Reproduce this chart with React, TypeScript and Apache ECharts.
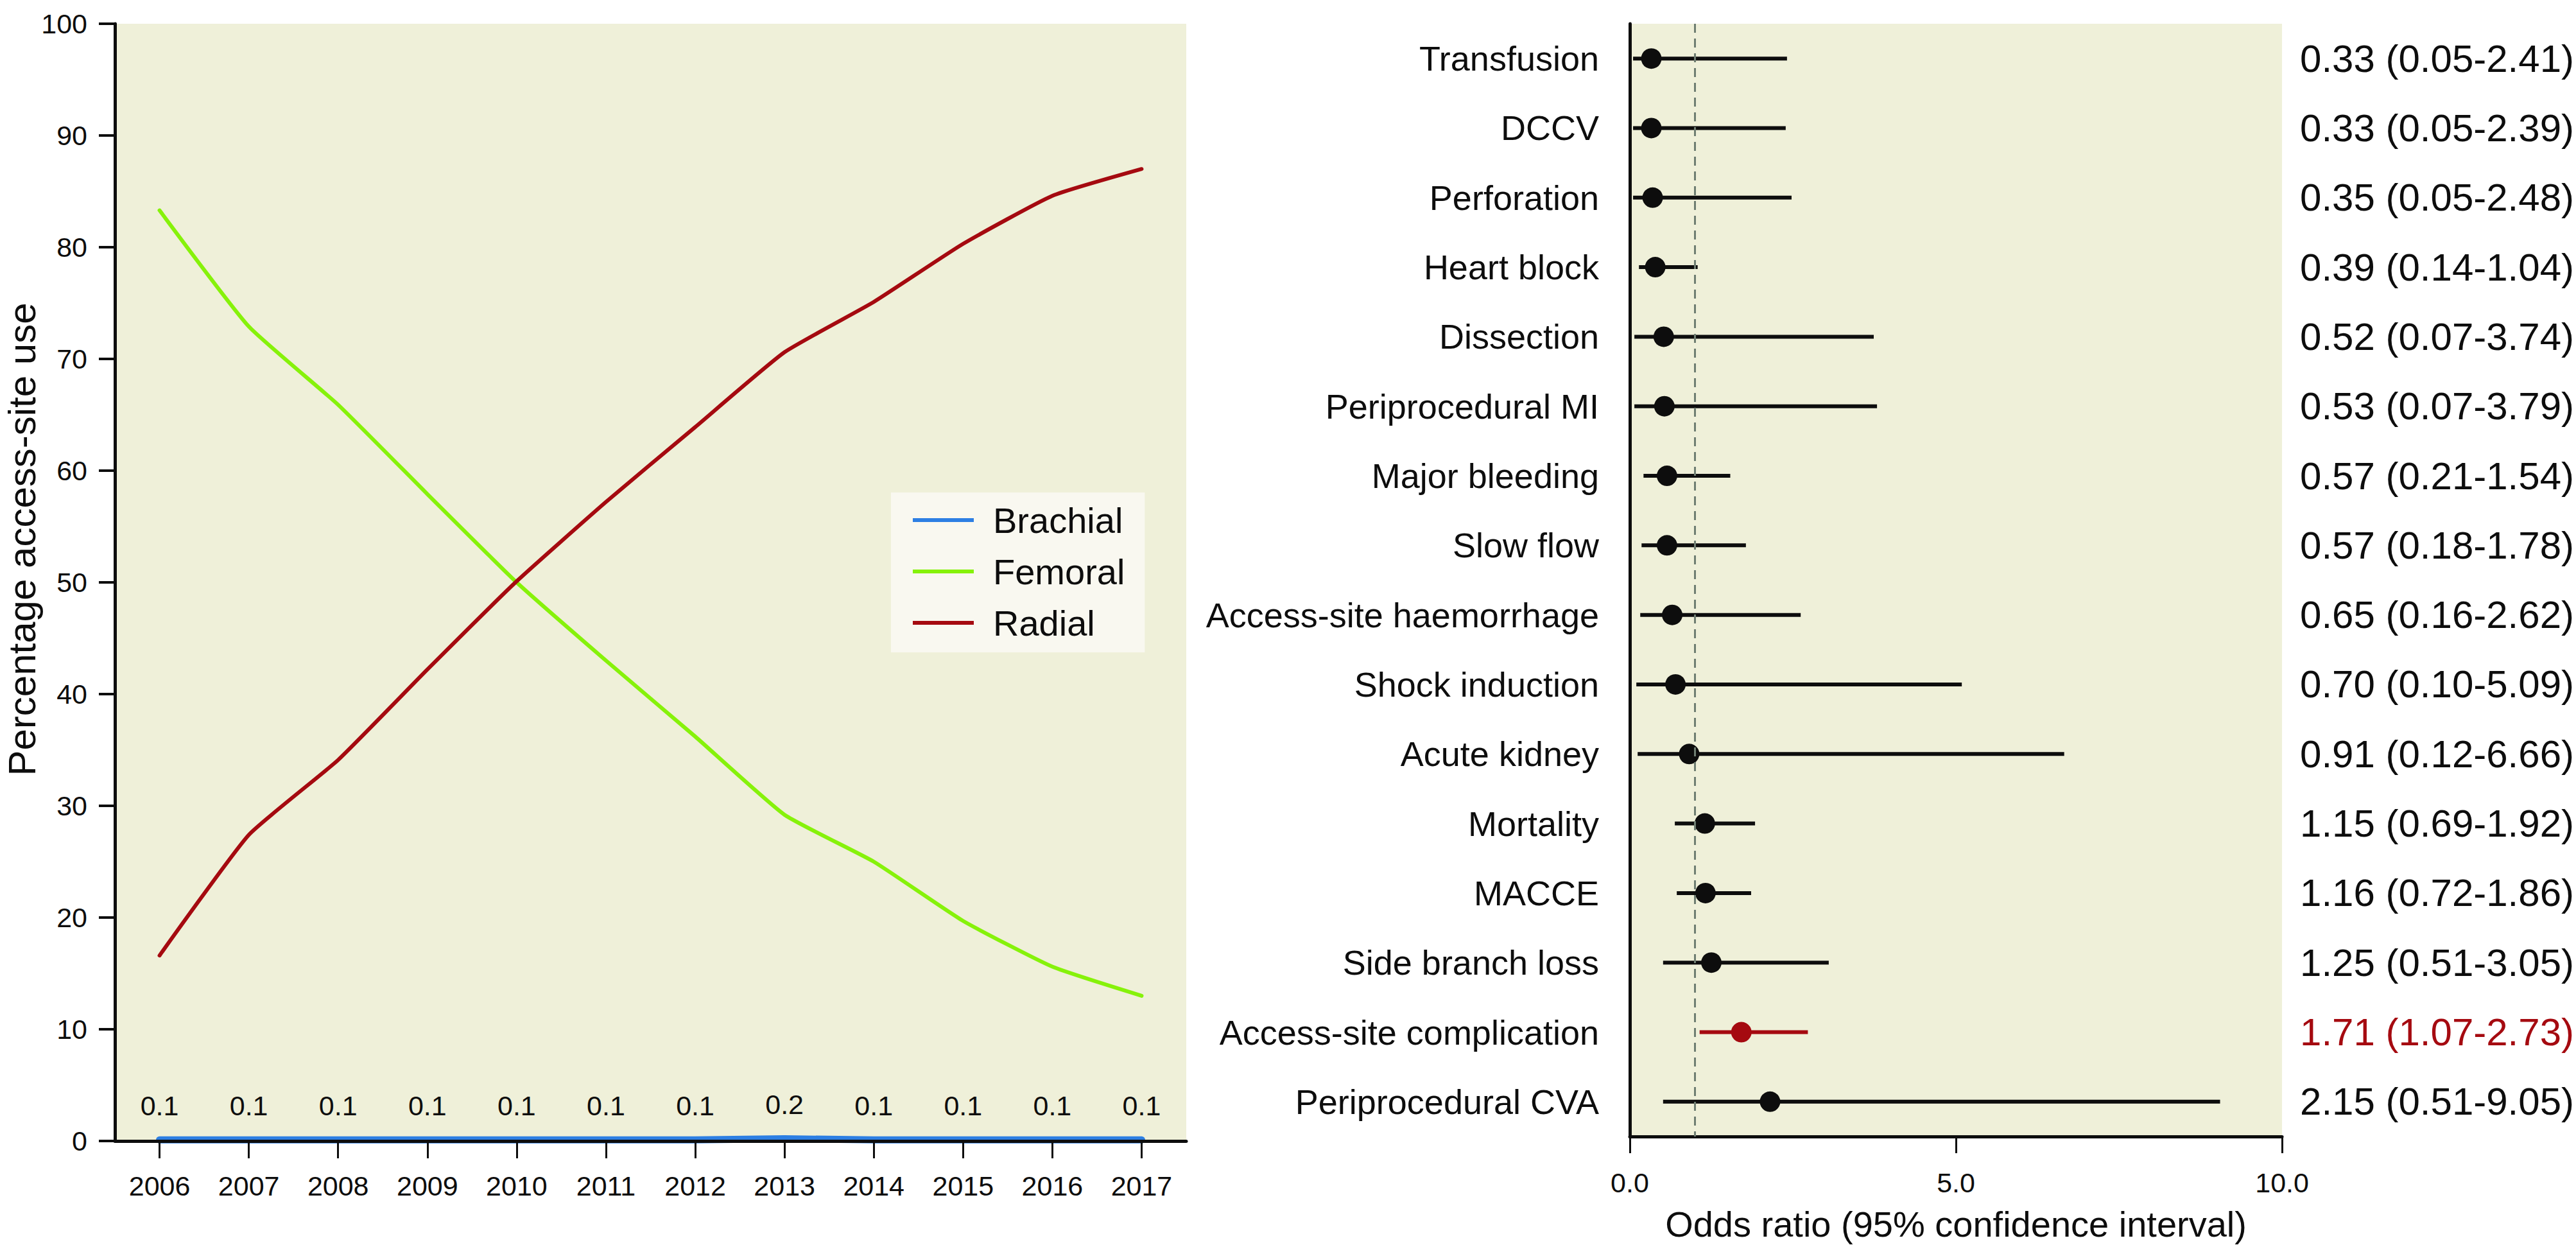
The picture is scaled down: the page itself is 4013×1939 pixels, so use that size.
import React, { useEffect, useRef } from "react";
import * as echarts from "echarts";

// ---------- Left panel data ----------
const years = ["2006", "2007", "2008", "2009", "2010", "2011", "2012", "2013", "2014", "2015", "2016", "2017"];
const brachial = [0.1, 0.1, 0.1, 0.1, 0.1, 0.1, 0.1, 0.2, 0.1, 0.1, 0.1, 0.1];
const femoral = [83.3, 72.9, 65.9, 57.9, 50.0, 43.0, 36.2, 29.2, 25.0, 19.7, 15.6, 13.0];
const radial = [16.6, 27.4, 34.1, 42.2, 50.1, 57.2, 63.9, 70.6, 75.1, 80.3, 84.6, 87.0];
const seriesNames = ["Brachial", "Femoral", "Radial"];
const leftTitle = "Percentage access-site use";

// ---------- Right panel data ----------
const outcomes = [
  "Transfusion",
  "DCCV",
  "Perforation",
  "Heart block",
  "Dissection",
  "Periprocedural MI",
  "Major bleeding",
  "Slow flow",
  "Access-site haemorrhage",
  "Shock induction",
  "Acute kidney",
  "Mortality",
  "MACCE",
  "Side branch loss",
  "Access-site complication",
  "Periprocedural CVA",
];
const oddsRatios = [0.33, 0.33, 0.35, 0.39, 0.52, 0.53, 0.57, 0.57, 0.65, 0.7, 0.91, 1.15, 1.16, 1.25, 1.71, 2.15];
const ciLow = [0.05, 0.05, 0.05, 0.14, 0.07, 0.07, 0.21, 0.18, 0.16, 0.1, 0.12, 0.69, 0.72, 0.51, 1.07, 0.51];
const ciHigh = [2.41, 2.39, 2.48, 1.04, 3.74, 3.79, 1.54, 1.78, 2.62, 5.09, 6.66, 1.92, 1.86, 3.05, 2.73, 9.05];

const BLUE = "#2D7FE3";
const GREEN = "#86F20A";
const RED = "#A50A10";
const INK = "#0d0d0d";
const PANEL = "#EFF0D9";
const TICKFONT = "'Liberation Sans Narrow', 'Liberation Sans', sans-serif";
const SANS = "'Liberation Sans', sans-serif";
const TICKSIZE = 43;

const isSignificant = (i: number) => ciLow[i] > 1 || ciHigh[i] < 1;
const valueStrings = outcomes.map(
  (_, i) => `${oddsRatios[i].toFixed(2)} (${ciLow[i].toFixed(2)}-${ciHigh[i].toFixed(2)})`
);

export default function App() {
  const ref = useRef<HTMLDivElement>(null);

  useEffect(() => {
    if (!ref.current) return;
    const chart = echarts.init(ref.current, undefined, { renderer: "svg" });

    const option: any = {
      animation: false,
      backgroundColor: "#ffffff",
      graphic: [
        {
          type: "text",
          x: 34,
          y: 840,
          rotation: Math.PI / 2,
          style: {
            text: leftTitle,
            fontFamily: SANS,
            fontSize: 60,
            fill: INK,
            align: "center",
            verticalAlign: "middle",
          },
        },
      ],
      legend: {
        data: seriesNames,
        orient: "vertical",
        left: 1388,
        top: 767,
        icon: "rect",
        itemWidth: 95,
        itemHeight: 6,
        itemGap: 24,
        padding: [15, 31, 18, 34],
        backgroundColor: "#F9F8F0",
        textStyle: {
          fontFamily: SANS,
          fontSize: 56,
          color: INK,
          padding: [0, 0, 0, 25],
        },
      },
      grid: [
        {
          left: 179,
          top: 37,
          width: 1669,
          height: 1740,
          show: true,
          backgroundColor: PANEL,
          borderWidth: 0,
        },
        {
          left: 2539,
          top: 37,
          width: 1020,
          height: 1738,
          show: true,
          backgroundColor: PANEL,
          borderWidth: 0,
        },
      ],
      xAxis: [
        {
          gridIndex: 0,
          type: "category",
          data: years,
          boundaryGap: true,
          axisLine: { show: true, lineStyle: { color: INK, width: 5 } },
          axisTick: { show: true, alignWithLabel: true, length: 27, lineStyle: { color: INK, width: 3 } },
          axisLabel: { fontFamily: TICKFONT, fontSize: TICKSIZE, color: INK, margin: 48 },
          splitLine: { show: false },
          z: 10,
        },
        {
          gridIndex: 1,
          type: "value",
          min: 0,
          max: 10,
          interval: 5,
          name: "Odds ratio (95% confidence interval)",
          nameLocation: "middle",
          nameGap: 108,
          nameTextStyle: { fontFamily: SANS, fontSize: 56, color: INK },
          axisLine: { show: true, lineStyle: { color: INK, width: 5 } },
          axisTick: { show: true, length: 26, lineStyle: { color: INK, width: 3 } },
          axisLabel: {
            fontFamily: TICKFONT,
            fontSize: TICKSIZE,
            color: INK,
            margin: 50,
            formatter: (v: number) => v.toFixed(1),
          },
          splitLine: { show: false },
        },
      ],
      yAxis: [
        {
          gridIndex: 0,
          type: "value",
          min: 0,
          max: 100,
          interval: 10,
          axisLine: { show: true, lineStyle: { color: INK, width: 5 } },
          axisTick: { show: true, length: 25, lineStyle: { color: INK, width: 4 } },
          axisLabel: { fontFamily: TICKFONT, fontSize: TICKSIZE, color: INK, margin: 43 },
          splitLine: { show: false },
          z: 10,
        },
        {
          gridIndex: 1,
          type: "category",
          data: outcomes,
          inverse: true,
          boundaryGap: true,
          axisLine: { show: true, onZero: false, lineStyle: { color: INK, width: 5 } },
          axisTick: { show: false },
          axisLabel: { fontFamily: SANS, fontSize: 54, color: INK, margin: 48 },
          splitLine: { show: false },
        },
        {
          gridIndex: 1,
          type: "category",
          data: valueStrings,
          inverse: true,
          position: "right",
          boundaryGap: true,
          axisLine: { show: false },
          axisTick: { show: false },
          axisLabel: {
            fontFamily: SANS,
            fontSize: 60,
            color: INK,
            margin: 28,
            formatter: (v: string, i: number) => (isSignificant(i) ? `{sig|${v}}` : v),
            rich: {
              sig: { fontFamily: SANS, fontSize: 60, color: RED },
            },
          },
          splitLine: { show: false },
        },
      ],
      series: [
        {
          name: "Brachial",
          type: "line",
          xAxisIndex: 0,
          yAxisIndex: 0,
          data: brachial,
          color: BLUE,
          symbol: "circle",
          symbolSize: 0.1,
          showSymbol: true,
          lineStyle: { color: BLUE, width: 11, cap: "round" },
          label: {
            show: true,
            position: "top",
            distance: 32,
            fontFamily: TICKFONT,
            fontSize: TICKSIZE,
            color: INK,
            formatter: (p: any) => Number(p.value).toFixed(1),
          },
          z: 2,
        },
        {
          name: "Femoral",
          type: "line",
          xAxisIndex: 0,
          yAxisIndex: 0,
          data: femoral,
          color: GREEN,
          showSymbol: false,
          smooth: 0.15,
          lineStyle: { color: GREEN, width: 6, cap: "round" },
        },
        {
          name: "Radial",
          type: "line",
          xAxisIndex: 0,
          yAxisIndex: 0,
          data: radial,
          color: RED,
          showSymbol: false,
          smooth: 0.15,
          lineStyle: { color: RED, width: 6, cap: "round" },
        },
        {
          name: "CI",
          type: "custom",
          xAxisIndex: 1,
          yAxisIndex: 1,
          data: outcomes.map((_, i) => [i, ciLow[i], ciHigh[i]]),
          encode: { x: [1, 2], y: 0 },
          renderItem: (params: any, api: any) => {
            const idx = api.value(0);
            const p1 = api.coord([api.value(1), idx]);
            const p2 = api.coord([api.value(2), idx]);
            return {
              type: "line",
              shape: { x1: p1[0], y1: p1[1], x2: p2[0], y2: p2[1] },
              style: { stroke: isSignificant(params.dataIndex) ? RED : INK, lineWidth: 6 },
            };
          },
          z: 3,
        },
        {
          name: "OR",
          type: "scatter",
          xAxisIndex: 1,
          yAxisIndex: 1,
          symbol: "circle",
          symbolSize: 32,
          data: outcomes.map((_, i) => ({
            value: [oddsRatios[i], i],
            itemStyle: { color: isSignificant(i) ? RED : INK, opacity: 1 },
          })),
          markLine: {
            silent: true,
            symbol: "none",
            label: { show: false },
            lineStyle: { color: "#6F7E72", width: 3, type: [14, 9] },
            data: [{ xAxis: 1 }],
          },
          z: 4,
        },
      ],
    };

    chart.setOption(option);
    return () => chart.dispose();
  }, []);

  return (
    <div
      ref={ref}
      style={{ position: "fixed", left: 0, top: 0, width: 4013, height: 1939, background: "#ffffff" }}
    />
  );
}
